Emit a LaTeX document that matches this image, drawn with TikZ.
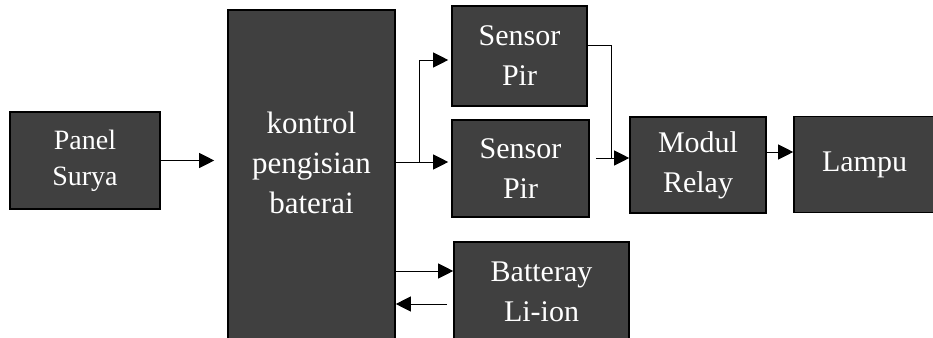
\documentclass[tikz,border=0pt]{standalone}
\usepackage{fontspec}
\setmainfont{Liberation Serif}
\usetikzlibrary{arrows.meta}

\definecolor{blokgray}{HTML}{404040}
\tikzset{
    blok/.style={draw=black, line width=1.6pt, fill=blokgray, text=white,
        align=center, inner sep=0pt, font=\fontsize{30}{40}\selectfont},
    panah/.style={line width=0.8pt, -{Triangle[length=15pt,width=15pt]}},
    garis/.style={line width=0.8pt}
}

\begin{document}
\begin{tikzpicture}[x=1pt,y=-1pt]
    \useasboundingbox (0,0) rectangle (933,337);
    \clip (0,0) rectangle (933,337);

    \node[blok, minimum width=150pt, minimum height=97pt, font=\fontsize{28}{36}\selectfont] (panel) at (85,160.5) {Panel\\Surya};
    \node[blok, minimum width=167pt, minimum height=340pt] (kontrol) at (311.5,180) {};
    \node[text=white, align=center, inner sep=0pt, font=\fontsize{31}{40}\selectfont] (kontroltxt) at (311.5,162.5) {kontrol\\pengisian\\baterai};
    \node[blok, minimum width=135pt, minimum height=100pt] (pirA) at (519.5,56) {Sensor\\Pir};
    \node[blok, minimum width=137pt, minimum height=97pt] (pirB) at (520.5,168.5) {Sensor\\Pir};
    \node[blok, minimum width=136pt, minimum height=96pt] (relay) at (698,165) {Modul\\Relay};
    \node[blok, minimum width=141pt, minimum height=96pt] (lampu) at (864.5,164.5) {Lampu};
    \node[blok, minimum width=175pt, minimum height=99pt] (baterai) at (541.5,291.5) {Batteray\\Li-ion};

    % cabang keluaran kontrol dan sensor
    \coordinate (cab) at (419,162);
    \coordinate (gab) at (611,158);

    \draw[panah, shorten >=13pt] (panel.east) -- (kontrol.west |- panel.east);
    \draw[panah, shorten >=3pt] (kontrol.east |- cab) -- (pirB.west |- cab);
    \draw[panah, shorten >=3pt] (cab) |- ([yshift=-4pt]pirA.west);
    \draw[garis] ([yshift=11pt]pirA.east) -| (gab);
    \draw[panah] ([xshift=6pt]pirB.east |- gab) -- (relay.west |- gab);
    \draw[panah] ([yshift=13pt]relay.east) -- ([yshift=13pt]relay.east -| lampu.west);
    \draw[panah] ([yshift=20.5pt]kontrol.east |- baterai.west) -- ([yshift=20.5pt]baterai.west);
    \draw[panah] ([xshift=-6pt,yshift=-12.5pt]baterai.west) -- ([yshift=-12.5pt]kontrol.east |- baterai.west);
\end{tikzpicture}
\end{document}
